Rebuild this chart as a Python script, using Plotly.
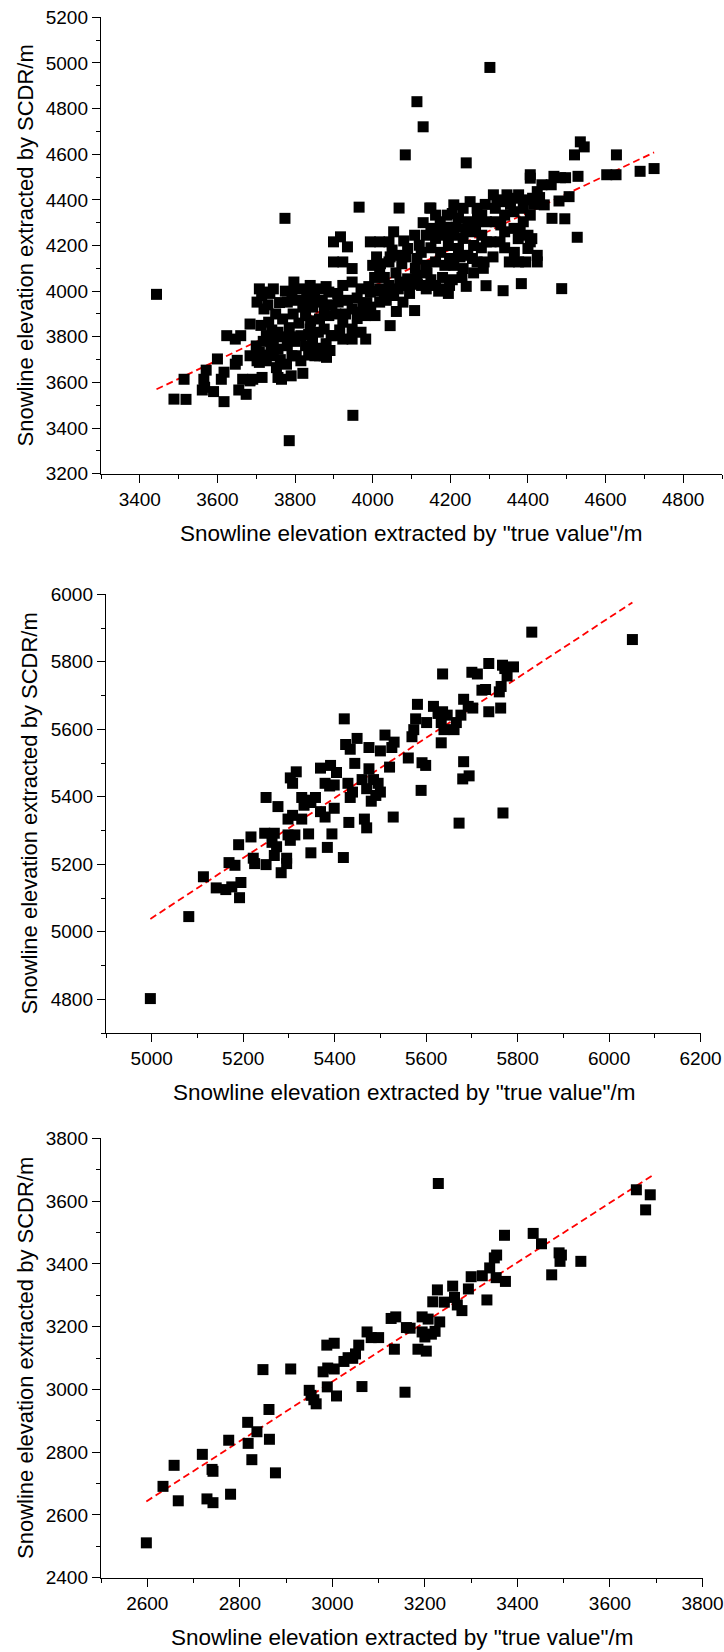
import plotly.graph_objects as go

# ---------------- Panel 1 data ----------------
p1 = [
(3443,3986),(3488,3527),(3519,3526),(3514,3614),(3567,3579),(3561,3567),(3565,3614),(3571,3654),(3600,3703),(3610,3614),(3617,3645),(3617,3516),(3590,3560),
(3646,3680),(3651,3697),(3624,3805),(3646,3790),(3660,3805),(3684,3856),(3655,3567),(3674,3548),(3665,3614),(3684,3607),(3691,3614),(3684,3717),(3702,3695),(3708,3732),
(3708,4010),(3714,3981),(3726,3996),(3744,4010),(3735,3990),(3702,3952),(3720,3922),(3732,3864),(3726,3805),(3744,3790),(3756,3820),(3768,3878),(3780,3952),(3792,3996),(3797,4040),(3756,3746),(3744,3717),(3726,3695),(3708,3688),(3780,3761),(3792,3717),(3715,3622),(3756,3622),(3765,3614),(3790,3629),(3738,3760),(3770,3800),(3750,3900),(3760,3950),(3730,3940),(3785,3840),(3795,3900),(3775,4000),
(3712,3850),(3740,3830),(3762,3700),(3778,3680),(3730,3720),(3752,3665),(3790,3800),(3700,3760),(3718,3780),
(3803,3717),(3815,3695),(3827,3761),(3851,3717),(3863,3717),(3875,3717),(3881,3710),(3815,3805),(3839,3834),(3863,3878),(3875,3922),(3827,3952),(3815,4010),(3839,4025),(3863,4010),(3887,3996),(3851,3952),(3887,3893),(3875,3834),(3893,3805),(3827,3893),(3810,3860),(3845,3780),(3820,3930),(3850,3990),(3870,3960),(3840,3870),(3860,3820),(3880,3770),(3805,3960),(3855,3750),
(3820,3640),(3835,3720),(3870,3740),(3890,3740),(3830,3990),(3880,4020),(3800,3780),(3845,3930),(3895,3940),(3835,3810),
(3899,4216),(3917,4238),(3935,4194),(3899,4128),(3923,4128),(3947,4099),(3923,4025),(3947,4040),(3970,4010),(3911,3952),(3947,3922),(3970,3908),(3982,3893),(3923,3864),(3947,3834),(3899,3805),(3923,3790),(3947,3790),(3970,3820),(3982,3790),(3965,4368),(3949,3456),(3910,3990),(3935,3960),(3960,3970),(3985,3950),(3905,3900),(3990,4020),
(3960,3880),(3975,3940),(3930,3900),(3915,3830),(3995,3930),
(3994,4216),(4018,4216),(4042,4216),(4054,4260),(4000,4113),(4018,4099),(4042,4128),(4066,4157),(4090,4187),(3994,3996),(4018,4010),(4042,4025),(4066,4010),(4090,4025),(4018,3952),(4054,3981),(4078,3952),(4061,3911),(4045,3849),(4006,3893),(4090,4054),(4068,4364),(4084,4597),(4030,4060),(4060,4080),(4075,4120),(4010,4150),(4050,4180),(4080,4220),(4030,3990),(4005,4060),
(4010,4000),(4035,3960),(4070,4040),(4095,3990),(4020,4120),(4045,4150),(4085,4150),
(4108,3915),(4114,4069),(4126,4025),(4138,4010),(4162,4025),(4186,4010),(4198,4025),(4114,4143),(4138,4113),(4162,4128),(4186,4113),(4198,4143),(4120,4201),(4138,4245),(4162,4231),(4186,4245),(4150,4275),(4174,4304),(4162,4333),(4192,4333),(4150,4364),(4114,4830),(4130,4720),(4108,4245),(4147,4364),(4125,4170),(4150,4190),(4175,4170),(4195,4200),(4110,4100),(4180,4060),(4140,4080),
(4115,4030),(4150,4050),(4170,4000),(4195,3990),(4130,4300),(4170,4260),(4195,4280),
(4209,4378),(4233,4363),(4251,4392),(4269,4363),(4221,4319),(4245,4304),(4281,4333),(4293,4304),(4209,4245),(4233,4231),(4257,4260),(4281,4245),(4293,4216),(4221,4187),(4245,4157),(4269,4128),(4287,4128),(4209,4113),(4233,4099),(4257,4143),(4241,4021),(4292,4024),(4241,4562),(4302,4980),(4215,4280),(4240,4270),(4265,4290),(4280,4190),(4225,4150),(4260,4200),
(4205,4050),(4230,4060),(4260,4080),(4285,4100),(4205,4340),(4270,4330),(4290,4380),
(4311,4422),(4328,4392),(4346,4422),(4364,4407),(4376,4422),(4316,4363),(4340,4333),(4364,4348),(4388,4363),(4316,4304),(4340,4260),(4364,4275),(4388,4304),(4305,4216),(4328,4216),(4352,4128),(4376,4128),(4394,4128),(4383,4033),(4336,4002),(4400,4245),(4400,4187),(4330,4290),(4355,4380),(4375,4230),(4380,4260),(4410,4230),
(4310,4150),(4340,4190),(4365,4170),(4320,4400),(4390,4400),
(4406,4510),(4406,4495),(4424,4436),(4436,4466),(4412,4407),(4424,4392),(4406,4333),(4424,4157),(4424,4128),(4406,4216),(4442,4378),(4460,4466),(4467,4503),(4484,4497),(4497,4497),(4480,4395),(4506,4414),(4462,4319),(4495,4317),(4487,4011),(4415,4380),(4430,4410),
(4520,4597),(4535,4654),(4545,4632),(4529,4503),(4527,4236),(4603,4510),(4627,4510),(4628,4597),(4689,4525),(4725,4537),
(3774,4319),(3785,3345),
]
p1_x = [p[0] for p in p1]
p1_y = [p[1] for p in p1]
fit1_x = [3443, 4725]
fit1_y = [3570, 4608]

# ---------------- Panel 2 data ----------------
p2 = [
(4997,4802),(5081,5045),(5113,5163),(5141,5130),(5162,5125),(5175,5133),(5195,5146),(5192,5101),(5169,5205),(5182,5197),
(5190,5258),(5217,5281),(5222,5218),(5225,5202),(5247,5292),(5250,5199),(5268,5292),(5263,5265),(5273,5252),(5268,5226),
(5283,5175),(5295,5218),(5295,5202),(5298,5287),(5303,5271),(5313,5287),(5298,5334),(5308,5345),(5250,5398),(5276,5371),
(5303,5456),(5308,5440),(5316,5474),(5328,5398),(5338,5390),(5348,5383),(5358,5398),(5333,5375),(5328,5334),(5343,5290),
(5348,5234),(5369,5485),(5379,5440),(5389,5432),(5391,5493),(5404,5472),(5399,5435),(5369,5356),(5379,5340),(5399,5366),
(5384,5250),(5394,5290),(5419,5220),(5421,5631),(5424,5555),(5434,5541),(5444,5499),(5449,5573),(5429,5440),(5439,5414),
(5434,5398),(5431,5324),(5465,5334),(5470,5308),(5460,5451),(5470,5424),(5475,5483),(5475,5546),(5485,5451),(5495,5440),
(5500,5414),(5490,5404),(5480,5387),(5500,5536),(5510,5583),(5520,5488),(5525,5546),(5530,5562),(5528,5340),(5561,5515),
(5569,5578),(5573,5599),(5577,5631),(5581,5674),(5591,5501),(5599,5493),(5589,5419),(5601,5620),(5616,5668),(5626,5647),
(5636,5652),(5639,5599),(5633,5560),(5633,5620),(5636,5764),(5646,5642),(5661,5599),(5666,5620),(5676,5642),(5672,5322),
(5682,5504),(5680,5453),(5694,5462),(5682,5689),(5692,5668),(5702,5663),(5700,5769),(5712,5764),(5722,5716),(5730,5718),
(5737,5795),(5737,5652),(5760,5711),(5764,5727),(5763,5663),(5767,5790),(5772,5780),(5777,5758),(5791,5785),(5768,5352),
(5831,5888),(6051,5866),
]
p2_x = [p[0] for p in p2]
p2_y = [p[1] for p in p2]
fit2_x = [4997, 6051]
fit2_y = [5038, 5976]

# ---------------- Panel 3 data ----------------
p3 = [
(2598,2511),(2634,2691),(2658,2758),(2667,2645),(2719,2793),(2729,2651),(2742,2639),(2740,2745),(2742,2739),(2776,2838),
(2780,2666),(2817,2895),(2818,2828),(2826,2776),(2837,2865),(2850,3063),(2863,2936),(2864,2841),(2877,2734),(2910,3065),
(2950,2997),(2954,2981),(2960,2967),(2965,2954),(2980,3056),(2988,3141),(2990,3068),(2989,3008),(3004,3147),(3004,3065),
(3009,2979),(3025,3089),(3034,3101),(3044,3099),(3050,3113),(3057,3141),(3064,3009),(3075,3183),(3084,3165),(3100,3165),
(3127,3226),(3137,3231),(3134,3128),(3157,2991),(3160,3197),(3168,3195),(3185,3128),(3194,3231),(3194,3183),(3200,3167),
(3203,3122),(3207,3224),(3214,3176),(3222,3185),(3232,3215),(3217,3279),(3227,3317),(3229,3656),(3242,3278),(3260,3329),
(3264,3293),(3270,3269),(3280,3251),(3294,3320),(3300,3359),(3324,3362),(3334,3285),(3340,3387),(3350,3419),(3355,3428),
(3354,3356),(3372,3491),(3374,3344),(3434,3497),(3452,3464),(3474,3365),(3490,3435),(3492,3408),(3495,3428),(3537,3408),
(3657,3636),(3677,3572),(3687,3620),
]
p3_x = [p[0] for p in p3]
p3_y = [p[1] for p in p3]
fit3_x = [2598, 3690]
fit3_y = [2643, 3680]

# ---------------- Layout helpers ----------------
W, H = 724, 1652
FONT = "Liberation Sans, Arial, sans-serif"
TICKF = dict(size=19, family=FONT, color="black")
XTITLEF = dict(size=22.5, family=FONT, color="black")
YTITLEF = dict(size=22, family=FONT, color="black")

def px_x(p):
    return p / W

def px_y(p):
    return 1 - p / H

def axis(rng, tick0, dom):
    return dict(
        range=rng, tick0=tick0, dtick=200, domain=dom,
        showline=True, linecolor="black", linewidth=1.4,
        ticks="outside", ticklen=8, tickwidth=1.4, tickcolor="black",
        minor=dict(dtick=100, tick0=tick0, ticks="outside", ticklen=4, tickwidth=1.1, tickcolor="black"),
        showgrid=False, zeroline=False, tickfont=TICKF, automargin=False,
    )

panels = [
    # (xs, ys, fx, fy, xrange, xtick0, yrange, ytick0, left, right, top, bottom)
    (p1_x, p1_y, fit1_x, fit1_y, [3300, 4900], 3400, [3199, 5201], 3200, 101, 722, 17, 474),
    (p2_x, p2_y, fit2_x, fit2_y, [4900, 6201], 5000, [4700, 6001], 4800, 106, 701, 594, 1033),
    (p3_x, p3_y, fit3_x, fit3_y, [2500, 3801], 2600, [2399, 3801], 2400, 101, 703, 1138, 1578),
]

fig = go.Figure()
layout = dict(
    width=W, height=H, margin=dict(l=0, r=0, t=0, b=0),
    paper_bgcolor="white", plot_bgcolor="white", showlegend=False,
)
annotations = []
for i, (xs, ys, fx, fy, xr, xt0, yr, yt0, L, R, T, B) in enumerate(panels, start=1):
    sfx = "" if i == 1 else str(i)
    fig.add_trace(go.Scatter(
        x=fx, y=fy, mode="lines", xaxis="x" + sfx, yaxis="y" + sfx,
        line=dict(color="#ff0000", width=1.8, dash="7px,4px"), hoverinfo="skip",
    ))
    fig.add_trace(go.Scatter(
        x=xs, y=ys, mode="markers", xaxis="x" + sfx, yaxis="y" + sfx,
        marker=dict(symbol="square", size=11, color="black", line=dict(width=0)),
    ))
    xa = axis(xr, xt0, [px_x(L), px_x(R)])
    xa["anchor"] = "y" + sfx
    ya = axis(yr, yt0, [px_y(B), px_y(T)])
    ya["anchor"] = "x" + sfx
    layout["xaxis" + sfx] = xa
    layout["yaxis" + sfx] = ya
    annotations.append(dict(
        text='Snowline elevation extracted by "true value"/m', xref="paper", yref="paper",
        x=px_x((L + R) / 2), y=px_y(B + 59), xanchor="center", yanchor="middle",
        showarrow=False, font=XTITLEF,
    ))
    annotations.append(dict(
        text="Snowline elevation extracted by SCDR/m", xref="paper", yref="paper",
        x=px_x(25 if i != 2 else 29), y=px_y((T + B) / 2), xanchor="center", yanchor="middle",
        textangle=-90, showarrow=False, font=YTITLEF,
    ))

layout["annotations"] = annotations
fig.update_layout(**layout)
fig.write_html(
    "out.html",
    config={"displayModeBar": False},
    post_script="document.body.style.margin='0';document.body.style.overflow='hidden';",
)
